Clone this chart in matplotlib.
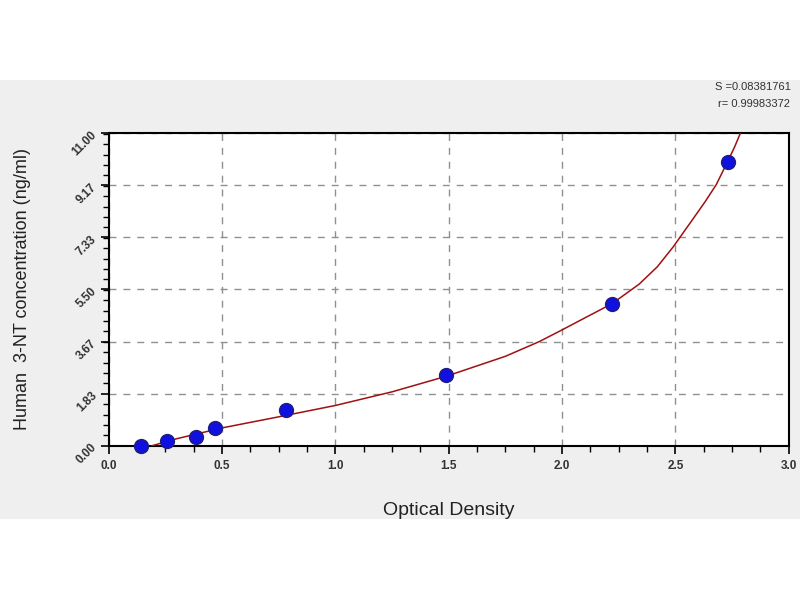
import matplotlib.pyplot as plt
from matplotlib.ticker import AutoMinorLocator, FixedLocator
from matplotlib.patches import Rectangle

plt.rcParams['font.family'] = ['Liberation Sans', 'DejaVu Sans']

# standard points (optical density vs concentration)
od = [0.14, 0.255, 0.386, 0.467, 0.783, 1.487, 2.219, 2.733]
conc = [0.0, 0.156, 0.312, 0.625, 1.25, 2.5, 5.0, 10.0]

# fitted curve
curve_od = [0.19, 0.30, 0.50, 0.75, 1.00, 1.25, 1.49, 1.75, 1.90, 2.00,
            2.10, 2.22, 2.34, 2.42, 2.49, 2.57, 2.63, 2.68, 2.73, 2.76, 2.79]
curve_conc = [0.0, 0.25, 0.63, 1.02, 1.42, 1.90, 2.45, 3.15, 3.67, 4.08,
              4.5, 5.0, 5.69, 6.3, 7.0, 7.9, 8.58, 9.19, 10.0, 10.5, 11.07]

y_ticks = [0.0, 1.83, 3.67, 5.50, 7.33, 9.17, 11.00]
y_labels = ["0.00", "1.83", "3.67", "5.50", "7.33", "9.17", "11.00"]
x_ticks = [0.0, 0.5, 1.0, 1.5, 2.0, 2.5, 3.0]
x_labels = ["0.0", "0.5", "1.0", "1.5", "2.0", "2.5", "3.0"]

fig = plt.figure(figsize=(8, 6), dpi=100)
# gray band behind the plot
bg = fig.add_axes([0, 0.135, 1, 0.732], zorder=0)
bg.set_axis_off()
bg.add_patch(Rectangle((0, 0), 1, 1, transform=bg.transAxes,
                       facecolor="#efefef", edgecolor="none"))

ax = fig.add_axes([0.136, 0.257, 0.850, 0.521], zorder=1)
ax.set_facecolor("white")

ax.plot(curve_od, curve_conc, color="#a01010", lw=1.1, zorder=3)
ax.plot(od, conc, "o", ms=10, mfc="#1010e0", mec="#20207a", mew=1, zorder=4,
        clip_on=False)

ax.set_xlim(0, 3.0)
ax.set_ylim(0, 11.0)
ax.xaxis.set_major_locator(FixedLocator(x_ticks))
ax.yaxis.set_major_locator(FixedLocator(y_ticks))
ax.xaxis.set_minor_locator(AutoMinorLocator(4))
ax.yaxis.set_minor_locator(AutoMinorLocator(5))
ax.set_xticklabels(x_labels, fontsize=8.5, fontweight="bold", color="#333333")
ax.set_yticklabels(y_labels, fontsize=8.5, fontweight="bold", color="#333333",
                   rotation=45, rotation_mode="anchor", ha="right", va="center")

ax.tick_params(which="major", direction="out", length=6, width=1.2, pad=4)
ax.tick_params(which="minor", direction="out", length=4, width=1.0)
ax.tick_params(top=False, right=False)

ax.grid(True, which="major", color="#909090", ls=(0, (5, 5)), lw=1)
for s in ax.spines.values():
    s.set_linewidth(1.5)
    s.set_color("black")

ax.set_xlabel("Optical Density", fontsize=14, labelpad=22, color="#222222")
ax.set_ylabel("Human  3-NT concentration (ng/ml)", fontsize=13, labelpad=28,
              color="#222222")

fig.text(0.988, 0.855, "S =0.08381761", ha="right", va="center", fontsize=8,
         color="#333333", zorder=5)
fig.text(0.988, 0.827, "r= 0.99983372", ha="right", va="center", fontsize=8,
         color="#333333", zorder=5)

fig.savefig("out.png", dpi=100)
